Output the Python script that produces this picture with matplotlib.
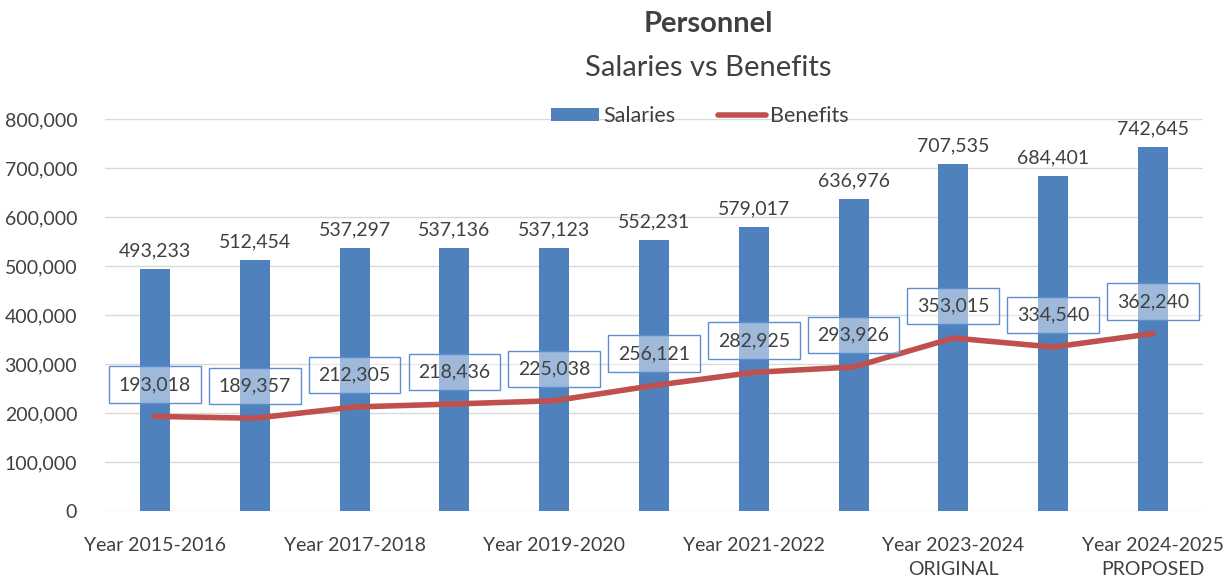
import matplotlib.pyplot as plt
from matplotlib.ticker import FuncFormatter

# ===================== 数据 =====================
years = ["Year 2015-2016", "Year 2016-2017", "Year 2017-2018", "Year 2018-2019",
         "Year 2019-2020", "Year 2020-2021", "Year 2021-2022", "Year 2022-2023",
         "Year 2023-2024\nORIGINAL", "Year 2023-2024\nREVISED", "Year 2024-2025\nPROPOSED"]
salaries = [493233, 512454, 537297, 537136, 537123, 552231, 579017, 636976, 707535, 684401, 742645]
benefits = [193018, 189357, 212305, 218436, 225038, 256121, 282925, 293926, 353015, 334540, 362240]

plt.rcParams['font.family'] = ['Lato', 'DejaVu Sans']
TXT = '#404040'

fig = plt.figure(figsize=(12.28, 5.78), dpi=100)
ax = fig.add_axes([105 / 1228, 1 - 511 / 578, 1098 / 1228, 392 / 578])

x = list(range(len(years)))
bars = ax.bar(x, salaries, width=0.3, color='#4F81BD', label='Salaries', zorder=2)
line, = ax.plot(x, benefits, color='#C0504D', lw=4, label='Benefits', zorder=3, solid_capstyle='round')

# 柱顶数字
for xi, v in zip(x, salaries):
    ax.annotate(f"{v:,}", (xi, v), xytext=(0, 7), textcoords='offset points',
                ha='center', va='bottom', fontsize=14, color=TXT)

# 折线数字（带框）
for xi, v in zip(x, benefits):
    ax.annotate(f"{v:,}", (xi, v), xytext=(0, 23), textcoords='offset points',
                ha='center', va='center', fontsize=14, color=TXT, zorder=4,
                bbox=dict(boxstyle='square,pad=0.5', fc=(1, 1, 1, 0.45), ec='#5B8FD0', lw=1))

ax.set_xlim(-0.5, len(years) - 0.5)
ax.set_ylim(0, 800000)
ax.set_yticks(range(0, 800001, 100000))
ax.yaxis.set_major_formatter(FuncFormatter(lambda v, p: f"{int(v):,}"))
ax.set_xticks(x[::2])
ax.set_xticklabels(years[::2], fontsize=14, color=TXT, linespacing=1.5)
ax.tick_params(axis='y', labelsize=14, labelcolor=TXT, length=0, pad=20)
ax.tick_params(axis='x', length=0, pad=19)
ax.grid(axis='y', color='#D9D9D9', lw=1, zorder=0)
ax.set_axisbelow(True)
for s in ax.spines.values():
    s.set_visible(False)

fig.text(708 / 1228, 1 - 24 / 578, "Personnel", ha='center', va='center',
         fontsize=21, fontweight='bold', color=TXT)
fig.text(708 / 1228, 1 - 68 / 578, "Salaries vs Benefits", ha='center', va='center',
         fontsize=21, color=TXT)

fig.legend([bars, line], ['Salaries', 'Benefits'], loc='center',
           bbox_to_anchor=(700 / 1228, 1 - 116 / 578), ncol=2, frameon=False,
           fontsize=15.5, labelcolor=TXT, handlelength=2.2, handleheight=0.55,
           columnspacing=2.0, handletextpad=0.2)

plt.savefig('out.png', dpi=100)
